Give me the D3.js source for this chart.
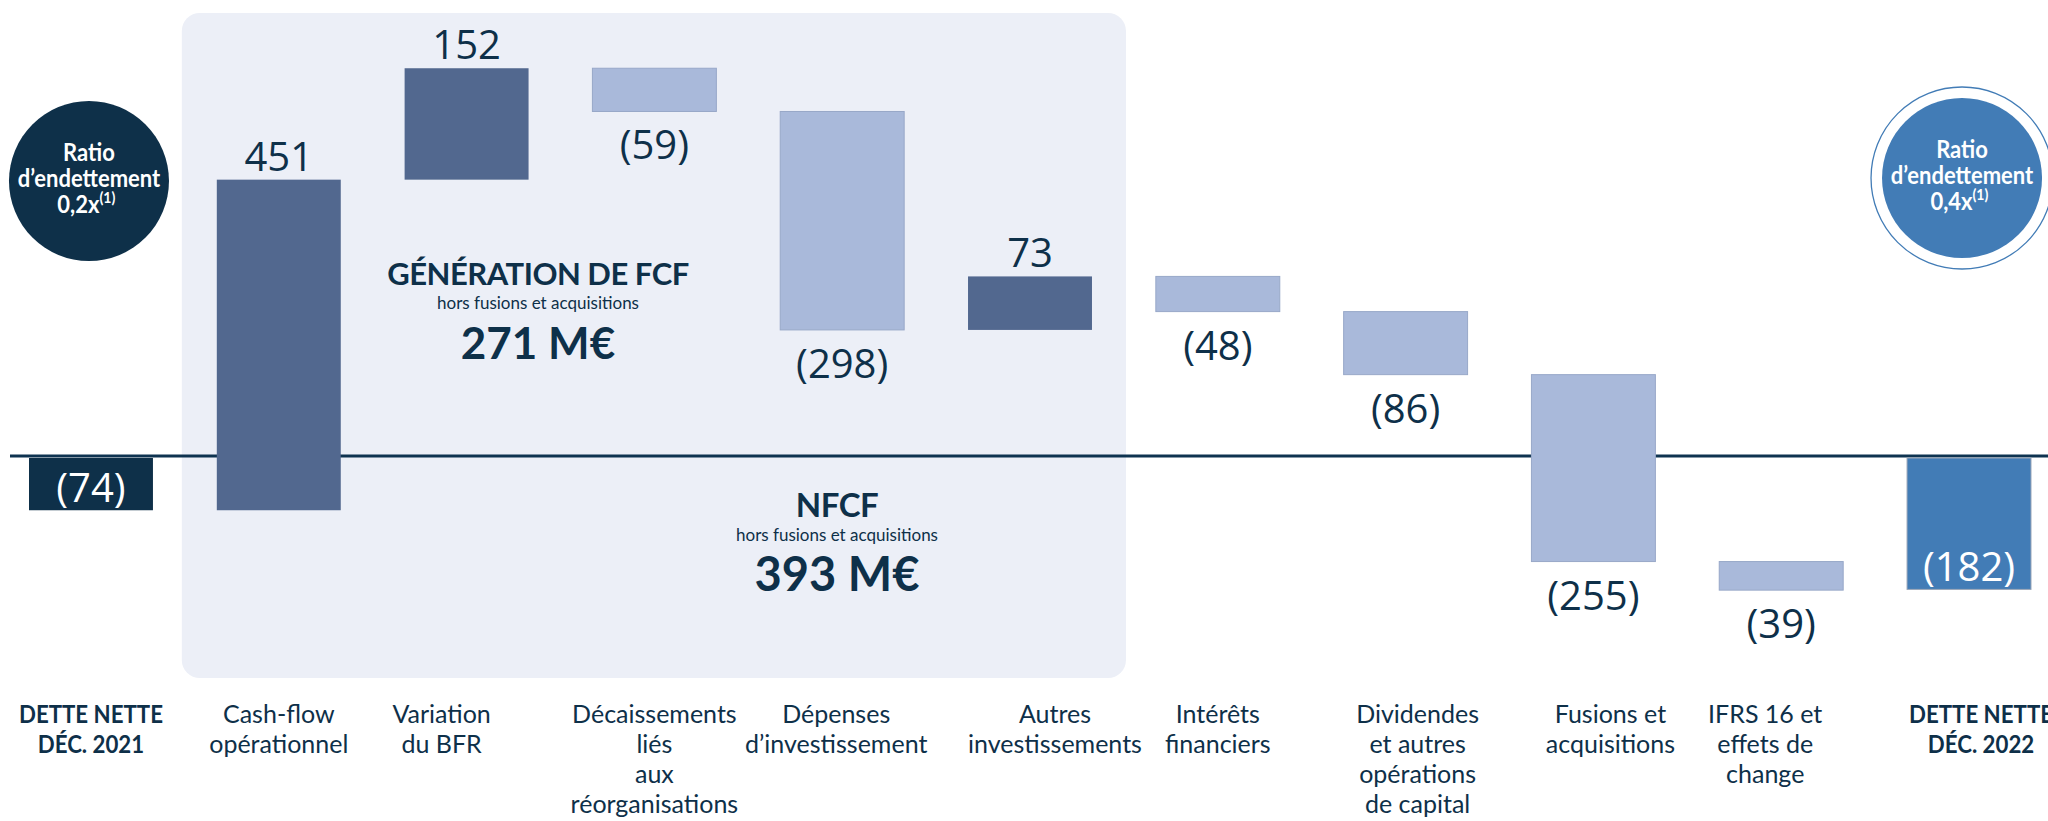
<!DOCTYPE html>
<html lang="fr">
<head>
<meta charset="utf-8">
<script src="https://cdn.jsdelivr.net/npm/d3@7"></script>
<style>
  html, body { margin: 0; padding: 0; background: #ffffff; overflow: hidden; }
  svg { display: block; }
  .value-label { font-family: "Open Sans", "Noto Sans", sans-serif; font-size: 40px; fill: #0e3049; }
  .cat-label { font-family: Lato, "Open Sans", sans-serif; font-size: 25px; fill: #0e3049; }
  .cat-label.bold { font-weight: 700; }
  .circle-text { font-family: Lato, sans-serif; font-weight: 700; font-size: 25px; fill: #ffffff; }
  .block-title { font-family: Lato, sans-serif; font-weight: 700; fill: #0e3049; }
  .block-sub { font-family: Lato, sans-serif; font-weight: 400; font-size: 17px; fill: #0e3049; }
</style>
</head>
<body>
<div id="chart"></div>
<script>
// Net debt bridge, Dec. 2021 -> Dec. 2022 (M€)
const categories = [
  'dette2021', 'cashflow', 'bfr', 'reorg', 'capex',
  'autresInv', 'interets', 'dividendes', 'fusions', 'ifrs', 'dette2022'
];
const categoryLabels = [
  ['DETTE NETTE', 'DÉC. 2021'],
  ['Cash-flow', 'opérationnel'],
  ['Variation', 'du BFR'],
  ['Décaissements', 'liés', 'aux', 'réorganisations'],
  ['Dépenses', 'd’investissement'],
  ['Autres', 'investissements'],
  ['Intérêts', 'financiers'],
  ['Dividendes', 'et autres', 'opérations', 'de capital'],
  ['Fusions et', 'acquisitions'],
  ['IFRS 16 et', 'effets de', 'change'],
  ['DETTE NETTE', 'DÉC. 2022']
];
const values = [-74, 451, 152, -59, -298, 73, -48, -86, -255, -39, -182];
const kinds = ['start', 'delta', 'delta', 'delta', 'delta', 'delta', 'delta', 'delta', 'delta', 'delta', 'end'];

const ratios = [
  { category: 'dette2021', line1: 'Ratio', line2: 'd’endettement', value: '0,2x', note: '(1)' },
  { category: 'dette2022', line1: 'Ratio', line2: 'd’endettement', value: '0,4x', note: '(1)' }
];

const blocks = [
  { title: 'GÉNÉRATION DE FCF', sub: 'hors fusions et acquisitions', amount: '271 M€' },
  { title: 'NFCF', sub: 'hors fusions et acquisitions', amount: '393 M€' }
];

// Colours
const colors = {
  navy: '#0e3049',
  positive: '#52688f',
  negative: '#a9b9da',
  negativeStroke: '#98a8c8',
  end: '#427cb6',
  panel: '#eceff7'
};

// small horizontal nudges of the category labels (px)
const labelShift = { bfr: -25, capex: -6, autresInv: 25, dividendes: 12, fusions: 17, ifrs: -16, dette2022: 12 };

const W = 2048, H = 821;

const svg = d3.select('#chart').append('svg')
  .attr('width', W)
  .attr('height', H);

// Scales
const x = d3.scaleBand()
  .domain(categories)
  .range([29, 2031])
  .paddingInner(0.34)
  .paddingOuter(0);

const y = d3.scaleLinear()
  .domain([-200, 600])
  .range([602.6, 16.2]);

// Waterfall steps
let running = 0;
const steps = categories.map((c, i) => {
  const v = values[i];
  let y0, y1;
  if (kinds[i] === 'delta') {
    y0 = running;
    y1 = running + v;
    running = y1;
  } else {
    y0 = 0;
    y1 = v;
    running = v;
  }
  return { category: c, value: v, kind: kinds[i], y0, y1, lines: categoryLabels[i] };
});

const fillOf = d => d.kind === 'start' ? colors.navy
  : d.kind === 'end' ? colors.end
  : d.value >= 0 ? colors.positive : colors.negative;

const fmt = v => v < 0 ? `(${Math.abs(v)})` : `${v}`;

// FCF panel behind the operating items
const panelX0 = x('cashflow') - 35;
const panelX1 = x('autresInv') + x.bandwidth() + 34;
svg.append('rect')
  .attr('x', panelX0)
  .attr('y', 13)
  .attr('width', panelX1 - panelX0)
  .attr('height', 665)
  .attr('rx', 18)
  .attr('fill', colors.panel);

// zero line
svg.append('line')
  .attr('x1', 10)
  .attr('x2', W)
  .attr('y1', y(0))
  .attr('y2', y(0))
  .attr('stroke', '#0e3350')
  .attr('stroke-width', 3);

// Bars
svg.selectAll('.bar')
  .data(steps)
  .join('rect')
  .attr('class', 'bar')
  .attr('x', d => x(d.category))
  .attr('width', x.bandwidth())
  .attr('y', d => y(Math.max(d.y0, d.y1)) + (d.kind === 'delta' ? 0 : 2))
  .attr('height', d => Math.abs(y(d.y0) - y(d.y1)) - (d.kind === 'delta' ? 0 : 2))
  .attr('fill', fillOf)
  .attr('stroke', d => d.kind === 'delta' && d.value < 0 ? colors.negativeStroke
    : d.kind === 'end' ? '#9aa6b8' : 'none')
  .attr('stroke-width', 1);

// Value labels
svg.selectAll('.value-label')
  .data(steps)
  .join('text')
  .attr('class', 'value-label')
  .attr('text-anchor', 'middle')
  .attr('x', d => x(d.category) + x.bandwidth() / 2)
  .attr('y', d => {
    if (d.kind !== 'delta') return y(d.y1) - 8;
    return d.value >= 0 ? y(d.y1) - 9 : y(d.y1) + 48;
  })
  .attr('font-size', d => d.kind === 'delta' ? 40 : 38)
  .style('fill', d => d.kind === 'delta' ? colors.navy : '#ffffff')
  .text(d => fmt(d.value));

// Category labels
const catGroups = svg.selectAll('.cat')
  .data(steps)
  .join('text')
  .attr('class', d => d.kind === 'delta' ? 'cat-label' : 'cat-label bold')
  .attr('text-anchor', 'middle')
  .attr('transform', d => {
    const cx = x(d.category) + x.bandwidth() / 2 + (labelShift[d.category] || 0);
    // the bold totals are set in a condensed cut in the original
    return `translate(${cx},723)` + (d.kind === 'delta' ? '' : ' scale(0.89,1)');
  });

catGroups.selectAll('tspan')
  .data(d => d.lines)
  .join('tspan')
  .attr('x', 0)
  .attr('y', (d, i) => i * 30)
  .text(d => d);

// Debt ratio bubbles
const bubble = svg.selectAll('.bubble')
  .data(ratios)
  .join('g')
  .attr('class', 'bubble')
  .attr('transform', (d, i) => `translate(${x(d.category) + x.bandwidth() / 2 - (i ? 7 : 2)},${i ? 178 : 181})`);

bubble.filter((d, i) => i === 1)
  .append('circle')
  .attr('r', 91)
  .attr('fill', '#ffffff')
  .attr('stroke', colors.end)
  .attr('stroke-width', 1.3);

bubble.append('circle')
  .attr('r', 80)
  .attr('fill', (d, i) => i ? colors.end : colors.navy);

// one text per line, condensed horizontally like the original cut
const lineDefs = [
  { y: -20, get: d => d.line1 },
  { y: 6, get: d => d.line2 }
];
lineDefs.forEach(l => {
  bubble.append('text')
    .attr('class', 'circle-text')
    .attr('text-anchor', 'middle')
    .attr('transform', `translate(0,${l.y}) scale(0.88,1)`)
    .text(l.get);
});
const vt = bubble.append('text')
  .attr('class', 'circle-text')
  .attr('text-anchor', 'middle')
  .attr('transform', 'translate(0,32) scale(0.88,1)');
vt.append('tspan').attr('dx', -3).text(d => d.value);
vt.append('tspan')
  .attr('dy', -10)
  .attr('font-size', 16)
  .text(d => d.note);

// FCF / NFCF annotations inside the panel
const blockPos = [
  { cx: 538, top: 285, titleSize: 31, amountSize: 44 },
  { cx: 837, top: 517, titleSize: 33, amountSize: 47 }
];

blocks.forEach((b, i) => {
  const p = blockPos[i];
  svg.append('text')
    .attr('class', 'block-title')
    .attr('x', p.cx)
    .attr('y', p.top)
    .attr('text-anchor', 'middle')
    .attr('font-size', p.titleSize)
    .attr('letter-spacing', -0.5)
    .text(b.title);
  svg.append('text')
    .attr('class', 'block-sub')
    .attr('x', p.cx)
    .attr('y', p.top + 24)
    .attr('text-anchor', 'middle')
    .text(b.sub);
  svg.append('text')
    .attr('class', 'block-title')
    .attr('x', p.cx)
    .attr('y', p.top + 74)
    .attr('text-anchor', 'middle')
    .attr('font-size', p.amountSize)
    .text(b.amount);
});
</script>
</body>
</html>
